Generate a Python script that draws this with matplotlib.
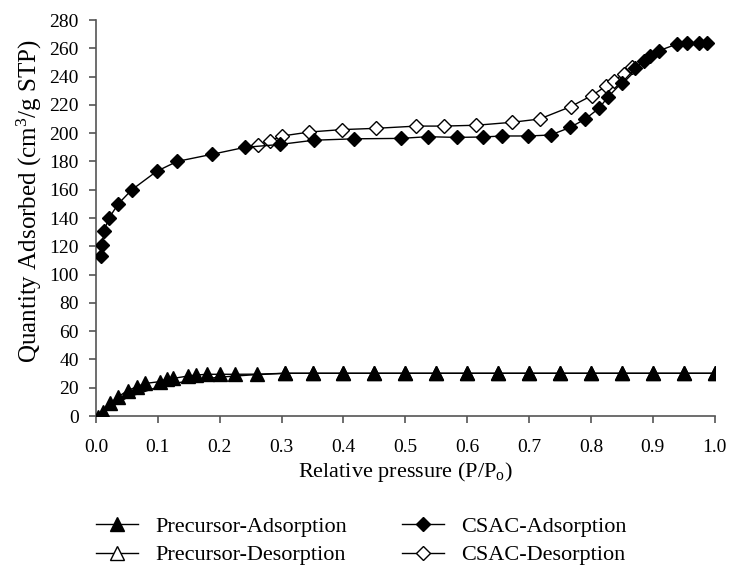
import numpy as np
import matplotlib
matplotlib.use("Agg")
import matplotlib.pyplot as plt

plt.rcParams['font.family'] = ['Liberation Serif', 'DejaVu Serif']
plt.rcParams['mathtext.default'] = 'regular'

# precursor isotherm
prec_ads_x = [0.004, 0.012, 0.023, 0.036, 0.051, 0.066, 0.079, 0.103, 0.114, 0.125,
              0.149, 0.162, 0.18, 0.2, 0.224, 0.261, 0.305, 0.35, 0.4, 0.45,
              0.5, 0.55, 0.6, 0.65, 0.7, 0.75, 0.8, 0.85, 0.9, 0.95, 1.0]
prec_ads_y = [-1, 3, 9, 13.6, 18, 20.7, 23, 24.3, 26, 26.6,
              28.3, 29, 29.5, 29.5, 29.5, 29.6, 30.2, 30.2, 30.2, 30.2,
              30.2, 30.2, 30.2, 30.2, 30.2, 30.2, 30.2, 30.2, 30.2, 30.2, 30.2]
# desorption branch: curved part has no visible markers, flat part sits under adsorption
prec_des_x = [0.004, 0.02, 0.05, 0.1, 0.15, 0.2, 0.25, 0.305, 0.35, 0.4, 0.45,
              0.5, 0.55, 0.6, 0.65, 0.7, 0.75, 0.8, 0.85, 0.9, 0.95, 1.0]
prec_des_y = [0, 5, 13, 20.5, 25, 27.5, 29, 30.2, 30.2, 30.2, 30.2,
              30.2, 30.2, 30.2, 30.2, 30.2, 30.2, 30.2, 30.2, 30.2, 30.2, 30.2]

# CSAC isotherm
csac_ads_x = [0.008, 0.010, 0.013, 0.021, 0.036, 0.058, 0.098, 0.131, 0.187, 0.241,
              0.297, 0.352, 0.417, 0.493, 0.536, 0.583, 0.626, 0.656, 0.699, 0.735,
              0.766, 0.791, 0.813, 0.828, 0.850, 0.872, 0.885, 0.896, 0.910, 0.939,
              0.955, 0.974, 0.988]
csac_ads_y = [113, 121, 131, 140, 150, 160, 173, 180, 185, 190,
              192, 195, 196, 196.3, 197.5, 197, 197.3, 198, 198, 198.7,
              204, 210, 217.6, 225.8, 235.7, 246, 251, 254.6, 258.3, 263,
              264, 263.6, 263.6]
csac_des_x = [0.262, 0.282, 0.301, 0.345, 0.397, 0.452, 0.518, 0.562, 0.615, 0.673,
              0.717, 0.767, 0.801, 0.825, 0.837, 0.853, 0.866]
csac_des_y = [191.4, 194.7, 198, 200.8, 202.5, 203.4, 205, 205, 205.6, 207.7,
              210, 218.7, 226.5, 233.4, 237, 242, 247]

fig = plt.figure(figsize=(7.3, 5.67), dpi=100)
ax = fig.add_axes([0.1315, 0.2663, 0.8475, 0.6984])

lw = 1.0
ax.plot(prec_ads_x, prec_ads_y, color='black', lw=lw, marker='^', ms=10,
        mfc='black', mec='black', label='Precursor-Adsorption', zorder=4)
ax.plot(prec_des_x, prec_des_y, color='black', lw=lw, marker='^', ms=10,
        mfc='white', mec='black', label='Precursor-Desorption', zorder=3,
        markevery=slice(7, None))
ax.plot(csac_ads_x, csac_ads_y, color='black', lw=lw, marker='D', ms=7,
        mfc='black', mec='black', label='CSAC-Adsorption', zorder=4)
ax.plot(csac_des_x, csac_des_y, color='black', lw=lw, marker='D', ms=7,
        mfc='white', mec='black', label='CSAC-Desorption', zorder=3)

ax.set_xlim(0, 1.0)
ax.set_ylim(0, 280)
ax.set_xticks(np.arange(0, 1.01, 0.1))
ax.set_xticklabels([f"{v:.1f}" for v in np.arange(0, 1.01, 0.1)])
ax.set_yticks(np.arange(0, 281, 20))

for s in ['top', 'right']:
    ax.spines[s].set_visible(False)
for s in ['left', 'bottom']:
    ax.spines[s].set_color('#555555')
    ax.spines[s].set_linewidth(1.2)
ax.tick_params(direction='out', length=5, width=1.2, color='#555555', labelsize=14)
ax.tick_params(axis='x', pad=11.5)
ax.tick_params(axis='y', pad=7.5)

ax.set_xlabel('Relative pressure (P/P$_{o}$)', fontsize=16)
ax.set_ylabel('Quantity Adsorbed (cm$^{3}$/g STP)', fontsize=18)
ax.xaxis.set_label_coords(0.5, -0.112)
ax.yaxis.set_label_coords(-0.084, 0.543)

handles, labels = ax.get_legend_handles_labels()
fig.legend(handles, labels, loc='upper left', bbox_to_anchor=(0.1315, 0.090),
           ncol=2, frameon=False, fontsize=16, borderpad=0, borderaxespad=0,
           handlelength=1.9, handletextpad=0.75, columnspacing=2.5,
           labelspacing=0.37)

fig.savefig('out.png', dpi=100)
